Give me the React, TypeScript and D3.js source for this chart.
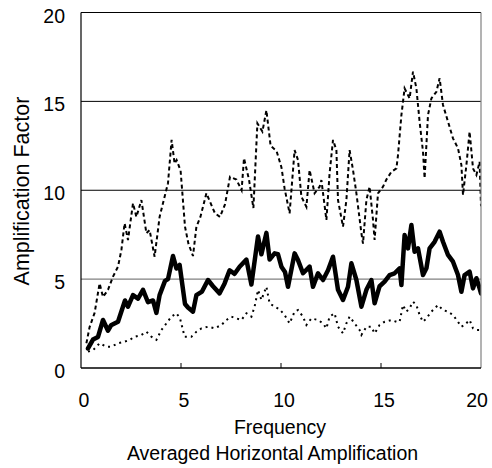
import React from "react";
import * as d3 from "d3";

const W = 492;
const H = 468;

const xTicks = [0, 5, 10, 15, 20];
const yTicks = [0, 5, 10, 15, 20];
const gridValues = [5, 10, 15];

const meanFreq = [0.35,0.6,0.85,1.1,1.35,1.5,1.85,2.2,2.35,2.6,2.85,3.1,3.35,3.6,3.77,3.93,4.2,4.35,4.6,4.77,4.93,5.2,5.35,5.6,5.77,6.05,6.35,6.6,6.93,7.18,7.43,7.68,7.93,8.27,8.52,8.85,9.02,9.27,9.43,9.68,9.85,10.02,10.2,10.35,10.68,10.85,11.1,11.43,11.6,11.85,12.1,12.35,12.6,12.85,13.1,13.35,13.52,13.77,14.02,14.27,14.52,14.68,14.93,15.18,15.43,15.68,15.93,16.02,16.18,16.35,16.52,16.68,16.85,17.1,17.27,17.43,17.68,17.93,18.1,18.35,18.6,18.85,19.02,19.18,19.43,19.6,19.77,19.93,20];
const meanVal = [1.1,1.6,1.75,2.7,2.1,2.4,2.6,3.8,3.45,4.1,3.9,4.4,3.7,3.8,3.1,4.1,4.9,5.0,6.3,5.6,5.8,3.6,3.4,3.17,4.1,4.3,4.95,4.6,4.2,4.76,5.5,5.3,5.7,6.1,4.7,7.4,6.4,7.6,6.1,6.45,6.4,5.7,5.4,4.57,6.45,6.07,5.33,5.7,4.57,5.33,4.95,5.5,6.26,4.4,3.83,4.57,5.89,4.95,3.45,4.4,4.95,3.64,4.6,4.86,5.23,5.33,5.61,4.67,7.48,6.73,8.04,6.54,6.73,5.23,5.61,6.73,7.1,7.67,7.1,6.36,5.98,5.23,4.29,5.23,5.42,4.48,5.05,4.48,4.2];

const upperFreq = [0.27,0.43,0.68,0.93,1.1,1.35,1.6,1.85,2.02,2.18,2.35,2.6,2.77,3.02,3.27,3.43,3.68,3.93,4.18,4.35,4.53,4.68,4.78,4.98,5.2,5.37,5.6,5.77,5.97,6.27,6.47,6.7,6.95,7.2,7.45,7.77,8.03,8.15,8.4,8.62,8.82,9.07,9.27,9.48,9.78,10.02,10.18,10.43,10.68,10.85,11.02,11.27,11.43,11.68,11.93,12.02,12.27,12.43,12.6,12.77,12.85,13.1,13.27,13.43,13.6,13.77,14.02,14.1,14.27,14.43,14.6,14.68,14.85,15.1,15.27,15.52,15.77,15.85,16.02,16.18,16.43,16.6,16.77,16.93,17.1,17.18,17.35,17.52,17.77,17.93,18.1,18.35,18.6,18.85,19.02,19.1,19.27,19.43,19.6,19.77,19.93,20];
const upperVal = [1.39,2.3,3.1,4.76,4.0,4.4,5.14,5.7,6.64,8.14,7.2,9.27,8.5,9.45,7.58,7.76,6.26,8.5,9.64,10.4,12.83,11.5,11.7,11.1,7.95,7.0,6.3,7.95,8.5,9.83,9.3,8.7,8.5,9.2,10.76,10.6,10.0,11.8,10.6,9.0,13.77,13.3,14.5,12.5,12.2,11.3,10.1,8.7,12.26,11.7,9.64,9.07,11.14,9.83,10.2,10.57,8.33,10.95,12.83,12.26,9.45,7.95,9.45,12.26,11.14,9.83,7.58,7.0,9.45,10.2,8.33,7.2,9.83,10.2,10.6,11.04,11.23,11.98,14.23,15.73,15.17,16.67,15.73,13.86,12.17,10.67,14.23,15.17,15.54,16.3,14.8,13.86,12.92,12.36,11.42,9.73,11.42,13.3,11.23,10.86,11.6,9.1];

const lowerFreq = [0.35,0.6,0.93,1.27,1.52,1.85,2.18,2.43,2.68,3.02,3.27,3.52,3.77,4.02,4.27,4.52,4.77,4.95,5.18,5.52,5.77,6.02,6.35,6.68,7.02,7.27,7.52,7.77,8.02,8.27,8.52,8.68,8.85,9.02,9.27,9.43,9.68,9.93,10.18,10.43,10.68,10.85,11.1,11.27,11.52,11.85,12.1,12.27,12.43,12.68,12.85,13.1,13.27,13.43,13.68,13.93,14.02,14.27,14.52,14.68,14.93,15.18,15.52,15.77,15.93,16.1,16.27,16.43,16.6,16.77,16.93,17.1,17.27,17.52,17.85,18.1,18.35,18.6,18.85,19.02,19.18,19.43,19.6,19.77,19.93];
const lowerVal = [0.92,1.0,1.39,1.2,1.2,1.39,1.48,1.58,1.76,1.86,2.04,1.76,1.58,2.14,2.51,2.89,3.08,2.8,1.76,1.76,2.04,2.23,2.32,2.23,2.42,2.7,2.89,2.79,2.7,3.08,2.89,3.45,4.39,3.83,4.57,3.64,3.45,3.3,2.98,2.51,3.17,3.26,2.89,2.42,2.79,2.7,2.51,2.23,2.89,3.08,2.32,1.95,2.51,2.89,2.51,2.14,1.86,2.32,2.32,1.95,2.42,2.6,2.7,2.6,2.6,3.54,3.17,3.36,3.73,3.54,2.98,2.6,2.79,3.17,3.54,3.26,3.17,2.98,2.6,2.32,2.42,2.7,2.23,2.14,2.14];

const xLabel = "Frequency";
const subtitle = "Averaged Horizontal Amplification";
const yLabel = "Amplification Factor";

export default function App() {
  const left = 81, right = 481, top = 12.5, bottom = 368;
  const x = d3.scaleLinear().domain([0, 20]).range([left, right]);
  const y = d3.scaleLinear().domain([0, 20]).range([bottom, top]);
  const line = d3.line<[number, number]>().x(d => x(d[0])).y(d => y(d[1]));
  const zip = (f: number[], v: number[]) => f.map((ff, i) => [ff, v[i]] as [number, number]);
  const font = "'Liberation Sans', Arial, sans-serif";

  return (
    <svg width={W} height={H} style={{ position: "absolute", left: 0, top: 0, background: "#fff" }}>
      <defs>
        <clipPath id="plot">
          <rect x={left} y={top} width={right - left} height={bottom - top} />
        </clipPath>
      </defs>
      <rect x={0} y={0} width={W} height={H} fill="#fff" />
      {gridValues.map(g => (
        <line key={g} x1={left} x2={right} y1={y(g)} y2={y(g)}
          stroke={g === 5 ? "#808080" : "#000"} strokeWidth={g === 5 ? 1.4 : 1} />
      ))}
      <g clipPath="url(#plot)" fill="none">
        <path d={line(zip(upperFreq, upperVal)) || ""} stroke="#000" strokeWidth={2} strokeDasharray="4,3" />
        <path d={line(zip(lowerFreq, lowerVal)) || ""} stroke="#000" strokeWidth={2} strokeDasharray="2,4" />
        <path d={line(zip(meanFreq, meanVal)) || ""} stroke="#000" strokeWidth={4.5} strokeLinejoin="round" strokeLinecap="round" />
      </g>
      <line x1={left} x2={right} y1={top} y2={top} stroke="#000" strokeWidth={1} />
      <line x1={right} x2={right} y1={top} y2={bottom} stroke="#808080" strokeWidth={1.2} />
      <line x1={left} x2={left} y1={top} y2={bottom} stroke="#000" strokeWidth={1.2} />
      <line x1={left} x2={right} y1={bottom} y2={bottom} stroke="#000" strokeWidth={1.3} />
      {xTicks.slice(1, -1).map(t => (
        <line key={t} x1={x(t)} x2={x(t)} y1={bottom} y2={bottom - 5} stroke="#000" strokeWidth={1} />
      ))}
      {yTicks.map(t => (
        <text key={t} x={65} y={y(t) + 10} textAnchor="end" fontFamily={font} fontSize={19.5} fill="#000">{t}</text>
      ))}
      {xTicks.map((t, i) => (
        <text key={t} x={i === xTicks.length - 1 ? x(t) - 4 : x(t) + 3} y={407} textAnchor="middle" fontFamily={font} fontSize={19.5} fill="#000">{t}</text>
      ))}
      <text x={280} y={433.5} textAnchor="middle" fontFamily={font} fontSize={19.5} fill="#000">{xLabel}</text>
      <text x={272.5} y={460} textAnchor="middle" fontFamily={font} fontSize={19.5} fill="#000">{subtitle}</text>
      <text transform={`translate(28.5,191) rotate(-90)`} textAnchor="middle" fontFamily={font} fontSize={21.5} fill="#000">{yLabel}</text>
    </svg>
  );
}
